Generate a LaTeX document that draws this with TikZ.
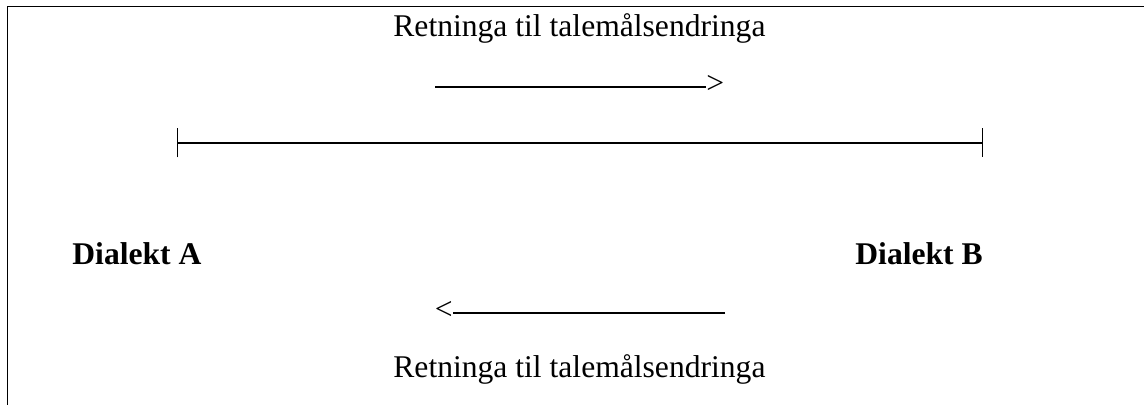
\documentclass[tikz,border=0pt]{standalone}
\usepackage{fontspec}
\setmainfont{Liberation Serif}
\usetikzlibrary{arrows.meta}
\tikzstyle{caption}=[inner sep=0pt,font=\fontsize{15.8}{18}\selectfont]
\tikzstyle{dialect}=[caption,font=\fontsize{15.8}{18}\selectfont\bfseries]
\tikzstyle{shaft}=[line width=0.65pt]
\newcommand{\captionnode}{\node[caption,anchor=base west]}

\begin{document}
\begin{tikzpicture}[x=0.5pt,y=-0.5pt]
			\useasboundingbox (0,0) rectangle (1144,405);
			% % % % % % % % % % % % % % % % % % % % % % % % % % % % % 
			\coordinate (frameBL) at (7.5,405);
			\coordinate (frameTL) at (7.5,6.5);
			\coordinate (frameTR) at (1144,6.5);
			\draw[line width=0.9pt] (frameBL) -- (frameTL) -- (frameTR);
			%*********************
			\captionnode (topText) at (393,37) {Retninga til talemålsendringa};
			\coordinate (topTail) at (435,87);
			\node[caption,anchor=west] (topHead) at (706,84) {>};
			%*********************
			\coordinate (barL) at (177,143);
			\coordinate (barR) at (983,143);
			%*********************
			\node[dialect,anchor=base west] (dialA) at (72,265) {Dialekt A};
			\node[dialect,anchor=base west] (dialB) at (855,265) {Dialekt B};
			%*********************
			\node[caption,anchor=east] (botHead) at (453,310) {<};
			\coordinate (botTail) at (725,313);
			\captionnode (botText) at (393,377) {Retninga til talemålsendringa};
			% % % % % % % % % % % % % % % % %
			\path[shaft]
			(topTail) edge [] (topTail -| topHead.west)
			(barL) edge [{Bar[width=14.5pt]}-{Bar[width=14.5pt]}] (barR)
			(botTail) edge [] (botTail -| botHead.east)
			;
\end{tikzpicture}
\end{document}
